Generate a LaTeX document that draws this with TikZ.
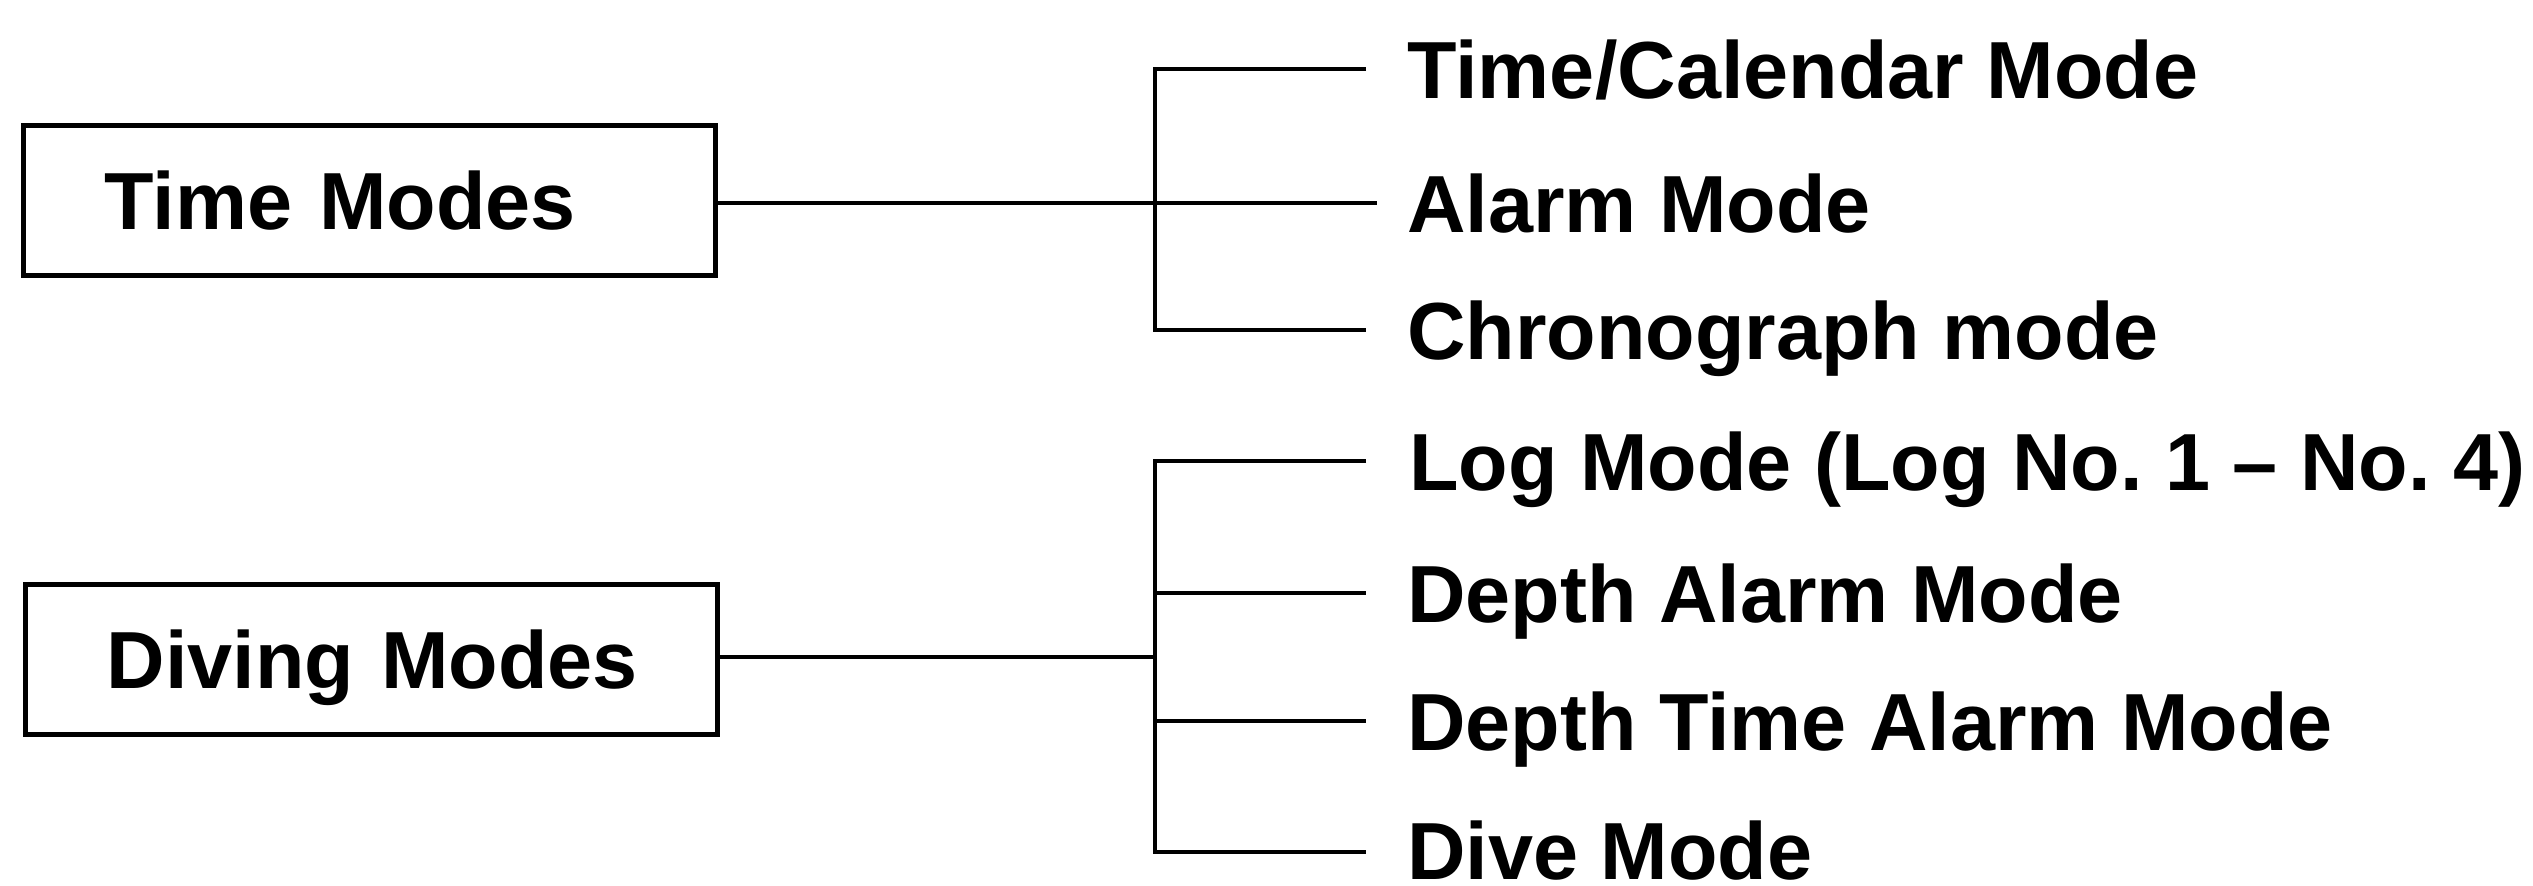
\documentclass[tikz,border=0pt]{standalone}
\usepackage{fontspec}
\setmainfont{Liberation Sans}
\begin{document}
\begin{tikzpicture}[x=0.5pt,y=-0.5pt,
  lbl/.style={font=\fontsize{40.5}{48}\selectfont\bfseries, inner sep=0pt, anchor=base west},
  box/.style={draw, line width=2.6pt, font=\fontsize{40.5}{48}\selectfont\bfseries,
    text width=265pt, align=left, inner xsep=40.5pt, inner ysep=0pt,
    minimum height=75pt, text height=29pt, text depth=0pt, anchor=north west},
  conn/.style={line width=2pt}]
\useasboundingbox (0,0) rectangle (2533,885);
% boxes
\node[box] (tm) at (21,123) {\mbox{Time Modes}};
\node[box] (dm) at (23,582) {\mbox{Diving Modes}};
% labels
\node[lbl] (t1) at (1407,98) {Time/Calendar Mode};
\node[lbl] (t2) at (1407,232) {Alarm Mode};
\node[lbl] (t3) at (1407,359) {Chronograph mode};
\node[lbl] (d1) at (1409,490) {Log Mode (Log No.~1 -- No.~4)};
\node[lbl] (d2) at (1407,622) {Depth Alarm Mode};
\node[lbl] (d3) at (1407,750) {Depth Time Alarm Mode};
\node[lbl] (d4) at (1407,879) {Dive Mode};
% connector ends
\coordinate (t1e) at (1366,69);
\coordinate (t2e) at (1377,203);
\coordinate (t3e) at (1366,330);
\coordinate (tb) at (1155,330);
\coordinate (dj) at (1155,657);
\coordinate (d1e) at (1366,461);
\coordinate (d2e) at (1366,593);
\coordinate (d3e) at (1366,721);
\coordinate (d4e) at (1366,852);
\coordinate (db) at (1155,852);
% time connectors
\draw[conn] (tm.east |- t2e) -- (t2e);
\draw[conn] (t1e) -| (tb) -- (t3e);
% diving connectors
\draw[conn] (dm.east |- dj) -- (dj);
\draw[conn] (d1e) -| (db) -- (d4e);
\draw[conn] (d2e -| db) -- (d2e);
\draw[conn] (d3e -| db) -- (d3e);
\end{tikzpicture}
\end{document}
